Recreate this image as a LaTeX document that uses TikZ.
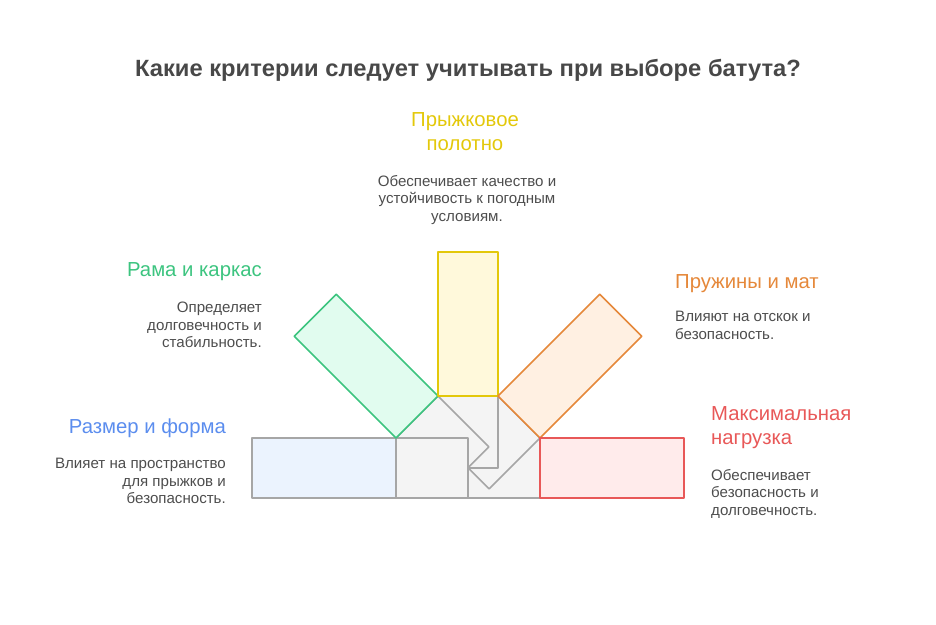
\documentclass[tikz,border=0pt]{standalone}
\usepackage{fontspec}
\setmainfont{Liberation Sans}
\newfontfamily\titlefont[FakeStretch=1.01]{Liberation Sans}

\definecolor{titletext}{HTML}{484848}
\definecolor{bodytext}{HTML}{4D4D4D}
\definecolor{extfill}{HTML}{F4F4F4}
\definecolor{extline}{HTML}{A6A6A6}
\definecolor{yellowline}{HTML}{E3C80A}
\definecolor{yellowfill}{HTML}{FFF9DB}
\definecolor{greenline}{HTML}{3CC47F}
\definecolor{greenfill}{HTML}{E1FCEF}
\definecolor{orangeline}{HTML}{E5883A}
\definecolor{orangefill}{HTML}{FFF0E2}
\definecolor{redline}{HTML}{E85858}
\definecolor{redfill}{HTML}{FFEBEB}
\definecolor{blueline}{HTML}{5B8DEE}
\definecolor{bluefill}{HTML}{EBF3FE}

\begin{document}
\begin{tikzpicture}[x=1pt,y=-1pt,
        ext/.style={fill=extfill,draw=extline,line width=1.6pt,line join=round},
        bar/.style={line width=1.6pt,line join=round},
        ttl/.style={inner sep=0pt,font=\fontsize{20.3}{24}\selectfont},
        txt/.style={inner sep=0pt,text=bodytext,font=\fontsize{15.1}{17.5}\selectfont}]
        \useasboundingbox (0,0) rectangle (936,624);
        % grey parts towards the middle, back to front
        \draw[ext] (468,438) rectangle (540,498);
        \draw[ext] (498,396) -- (540,438) -- (489.1,488.9) -- (447.1,446.9) -- cycle;
        \draw[ext] (438,396) rectangle (498,468);
        \draw[ext] (438,396) -- (396,438) -- (446.9,488.9) -- (488.9,446.9) -- cycle;
        \draw[ext] (396,438) rectangle (468,498);
        % coloured bars
        \draw[bar,fill=bluefill,draw=extline] (252,438) rectangle (396,498);
        \draw[bar,fill=greenfill,draw=greenline]
            (396,438) -- (438,396) -- (336.2,294.2) -- (294.2,336.2) -- cycle;
        \draw[bar,fill=yellowfill,draw=yellowline] (438,252) rectangle (498,396);
        \draw[bar,fill=orangefill,draw=orangeline]
            (498,396) -- (540,438) -- (641.8,336.2) -- (599.8,294.2) -- cycle;
        \draw[bar,fill=redfill,draw=redline] (540,438) rectangle (684,498);
        %
        \node[inner sep=0pt,anchor=base,text=titletext,font=\titlefont\bfseries\fontsize{23.5}{28}\selectfont]
            (title) at (468,76) {Какие критерии следует учитывать при выборе батута?};
        \node[ttl,text=yellowline,align=center,anchor=north] (polotno) at (465,112) {Прыжковое\\полотно};
        \node[txt,align=center,anchor=north] (polotnotxt) at (467,175) {Обеспечивает качество и\\устойчивость к погодным\\условиям.};
        \node[ttl,text=greenline,align=right,anchor=north east] (rama) at (262,262) {Рама и каркас};
        \node[txt,align=right,anchor=north east] (ramatxt) at (262,302) {Определяет\\долговечность и\\стабильность.};
        \node[ttl,text=orangeline,align=left,anchor=north west] (pruzhiny) at (675,274) {Пружины и мат};
        \node[txt,align=left,anchor=north west] (pruzhinytxt) at (675,311) {Влияют на отскок и\\безопасность.};
        \node[ttl,text=blueline,align=right,anchor=north east] (razmer) at (226,419) {Размер и форма};
        \node[txt,align=right,anchor=north east] (razmertxt) at (226,458) {Влияет на пространство\\для прыжков и\\безопасность.};
        \node[ttl,text=redline,align=left,anchor=north west] (nagruzka) at (711,406) {Максимальная\\нагрузка};
        \node[txt,align=left,anchor=north west] (nagruzkatxt) at (711,469) {Обеспечивает\\безопасность и\\долговечность.};
    \end{tikzpicture}
\end{document}
